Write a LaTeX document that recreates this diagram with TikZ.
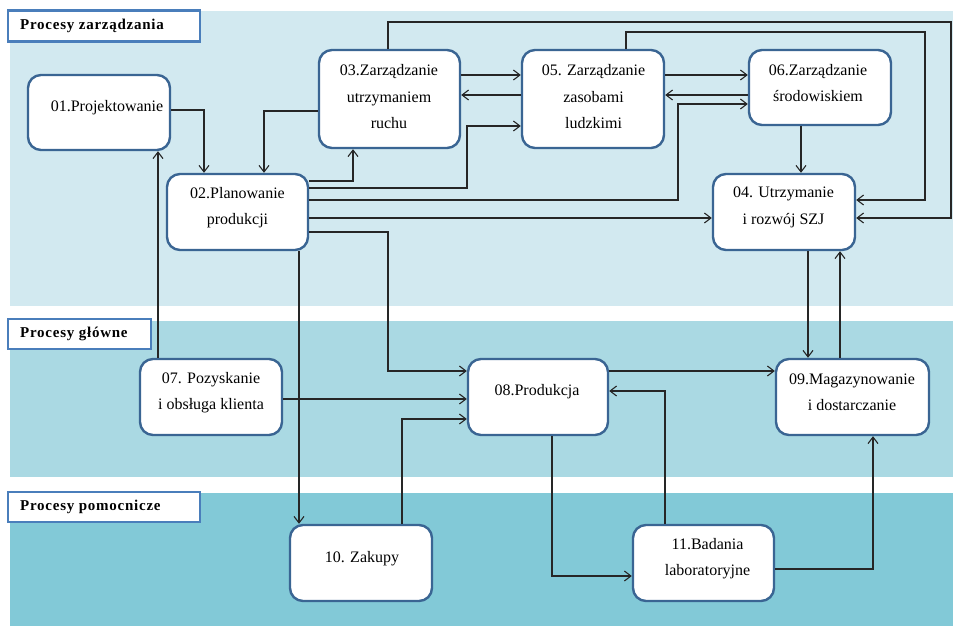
\documentclass[tikz,border=0pt]{standalone}
\usepackage{fontspec}
\setmainfont{Liberation Serif}
\newfontfamily\lblfont[LetterSpace=5]{Liberation Serif}
\usetikzlibrary{arrows.meta}
\definecolor{bandA}{HTML}{D2E9F0}
\definecolor{bandB}{HTML}{AAD9E3}
\definecolor{bandC}{HTML}{82C9D7}
\definecolor{boxline}{HTML}{3A6593}
\definecolor{lblline}{HTML}{4A7EBB}
\definecolor{conn}{HTML}{262626}
\tikzset{
  procbox/.style={draw=boxline, line width=2.4pt, fill=white, rounded corners=13pt, inner sep=0pt},
  lblbox/.style={draw=lblline, line width=2.4pt, fill=white, inner sep=0pt},
  lbltext/.style={anchor=west, font=\lblfont\bfseries\fontsize{15}{18}\selectfont, inner sep=0pt},
  boxtext/.style={align=center, font=\fontsize{16}{26.5}\selectfont, inner sep=0pt},
  arr/.style={draw=conn, line width=1.1pt, -{Straight Barb[length=6.5pt,width=10pt,line width=1.1pt]}},
}
\begin{document}
\begin{tikzpicture}[x=1pt,y=-1pt]
\useasboundingbox (0,0) rectangle (953,626);
% bands
\fill[bandA] (10,11) rectangle (953,306);
\fill[bandB] (10,321) rectangle (953,477);
\fill[bandC] (10,493) rectangle (953,626);
% band labels
\node[lblbox, minimum width=192pt, minimum height=31pt] (L1) at (104,26.2) {};
\node[lbltext] (L1t) at (20,26.2) {Procesy zarządzania};
\node[lblbox, minimum width=142.5pt, minimum height=30pt] (L2) at (79.5,334) {};
\node[lbltext] (L2t) at (20,334) {Procesy główne};
\node[lblbox, minimum width=192pt, minimum height=30pt] (L3) at (104,506.7) {};
\node[lbltext] (L3t) at (20,506.7) {Procesy pomocnicze};
% process boxes
\node[procbox, minimum width=142pt, minimum height=75pt] (b01) at (99,112.5) {};
\node[procbox, minimum width=141pt, minimum height=76pt] (b02) at (237.5,212) {};
\node[procbox, minimum width=141pt, minimum height=98pt] (b03) at (389.5,99) {};
\node[procbox, minimum width=142pt, minimum height=98pt] (b05) at (593,99) {};
\node[procbox, minimum width=142pt, minimum height=75pt] (b06) at (820,87.5) {};
\node[procbox, minimum width=142pt, minimum height=76pt] (b04) at (784,212) {};
\node[procbox, minimum width=142pt, minimum height=76pt] (b07) at (211,397) {};
\node[procbox, minimum width=140pt, minimum height=76pt] (b08) at (538,397) {};
\node[procbox, minimum width=153pt, minimum height=76pt] (b09) at (852.5,397) {};
\node[procbox, minimum width=142pt, minimum height=76pt] (b10) at (361,563) {};
\node[procbox, minimum width=141pt, minimum height=76pt] (b11) at (703.5,563) {};
% texts
\node[boxtext] (t01) at (107,108) {01.Projektowanie};
\node[boxtext] (t02) at (237.5,207.5) {02.Planowanie\\produkcji};
\node[boxtext] (t03) at (389,97) {03.Zarządzanie\\utrzymaniem\\ruchu};
\node[boxtext] (t05) at (593.5,97) {05. Zarządzanie\\zasobami\\ludzkimi};
\node[boxtext] (t06) at (818,83) {06.Zarządzanie\\środowiskiem};
\node[boxtext] (t04) at (783.5,207.5) {04. Utrzymanie\\i rozwój SZJ};
\node[boxtext] (t07) at (211,392.5) {07. Pozyskanie\\i obsługa klienta};
\node[boxtext] (t08) at (537,392) {08.Produkcja};
\node[boxtext] (t09) at (852,392.5) {09.Magazynowanie\\i dostarczanie};
\node[boxtext] (t10) at (362,559) {10. Zakupy};
\node[boxtext] (t11) at (707.5,558.5) {11.Badania\\laboratoryjne};
% connectors
\draw[arr] (b01.east |- 0,110) -| (204,0 |- b02.north);
\draw[arr] (b03.west |- 0,111) -| (264,0 |- b02.north);
\draw[arr] (158,0 |- b07.north) -- (158,0 |- b01.south);
\draw[arr] (b02.east |- 0,181) -| (353,0 |- b03.south);
\draw[arr] (b02.east |- 0,188) -| (467,126) -- (b05.west |- 0,126);
\draw[arr] (b02.east |- 0,200) -| (678,104) -- (b06.west |- 0,104);
\draw[arr] (b02.east |- 0,218) -- (b04.west |- 0,218);
\draw[arr] (b02.east |- 0,232) -| (388,371) -- (b08.west |- 0,371);
\draw[arr] (299,0 |- b02.south) -- (299,0 |- b10.north);
\draw[arr] (388,0 |- b03.north) |- (951,22) |- (b04.east |- 0,218);
\draw[arr] (b03.east |- 0,75) -- (b05.west |- 0,75);
\draw[arr] (b05.west |- 0,95) -- (b03.east |- 0,95);
\draw[arr] (b05.east |- 0,75) -- (b06.west |- 0,75);
\draw[arr] (b06.west |- 0,95) -- (b05.east |- 0,95);
\draw[arr] (626,0 |- b05.north) |- (925,32) |- (b04.east |- 0,200);
\draw[arr] (801,0 |- b06.south) -- (801,0 |- b04.north);
\draw[arr] (808,0 |- b04.south) -- (808,0 |- b09.north);
\draw[arr] (840,0 |- b09.north) -- (840,0 |- b04.south);
\draw[arr] (b07.east |- 0,399) -- (b08.west |- 0,399);
\draw[arr] (402,0 |- b10.north) |- (b08.west |- 0,419);
\draw[arr] (b08.east |- 0,371) -- (b09.west |- 0,371);
\draw[arr] (665,0 |- b11.north) |- (b08.east |- 0,391);
\draw[arr] (552,0 |- b08.south) |- (b11.west |- 0,576);
\draw[arr] (b11.east |- 0,569) -| (873,0 |- b09.south);
\end{tikzpicture}
\end{document}
